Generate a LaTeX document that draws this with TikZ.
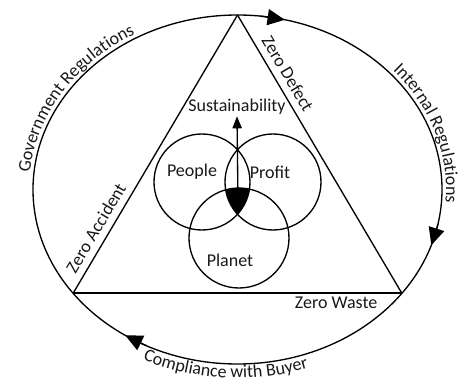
\documentclass[tikz,border=0pt]{standalone}
\usepackage{fontspec}
\setmainfont{Carlito}
\usetikzlibrary{arrows.meta,calc,decorations.text}

\newcommand{\tagfont}{\fontsize{13.5}{15}\selectfont}

\tikzstyle{ring} = [draw, line width=1pt]
\tikzstyle{side} = [draw, line width=1pt]
\tikzstyle{petal} = [circle, draw, line width=1pt, minimum size=72pt, inner sep=0pt]
\tikzstyle{tag} = [font=\tagfont, text=black!90, inner sep=1pt]
\tikzstyle{flow} = [line width=1pt, -{Triangle[length=13pt,width=12pt]}]
\tikzstyle{rise} = [line width=1pt, -{Triangle[length=9pt,width=7pt]}]
\tikzstyle{along} = [decorate, decoration={text along path, text align=center, text color=black!90}]

\begin{document}
\begin{tikzpicture}[x=0.75pt, y=0.75pt]
\useasboundingbox (0,0) rectangle (468,383);

% Outer cycle
\coordinate (c) at (237.5,193.5);
\draw[ring] (c) ellipse[x radius=204.5, y radius=174.5];

% Arrowheads on the cycle (clockwise)
\coordinate (topTip) at ($(c)+(76.6:204.5 and 174.5)$);
\coordinate (topTail) at ($(c)+(83.6:204.5 and 174.5)$);
\coordinate (rightTip) at ($(c)+(-18.6:204.5 and 174.5)$);
\coordinate (rightTail) at ($(c)+(-11.6:204.5 and 174.5)$);
\coordinate (leftTip) at ($(c)+(236.7:204.5 and 174.5)$);
\coordinate (leftTail) at ($(c)+(243.7:204.5 and 174.5)$);
\draw[flow] (topTail) -- (topTip);
\draw[flow] (rightTail) -- (rightTip);
\draw[flow] (leftTail) -- (leftTip);

% Texts round the cycle
\path[along, decoration={text={|\tagfont|Government Regulations}}]
  (c) ++(190:208.5 and 178.5) arc[start angle=190, end angle=106, x radius=208.5, y radius=178.5];
\path[along, decoration={text={|\tagfont|Internal Regulations}}]
  (c) ++(60:208.5 and 178.5) arc[start angle=60, end angle=-24, x radius=208.5, y radius=178.5];
\path[along, decoration={text={|\tagfont|Compliance with Buyer}}]
  (c) ++(225:219 and 188.5) arc[start angle=225, end angle=308, x radius=219, y radius=188.5];

% Triangle
\coordinate (apex) at ($(c)+(90:204.5 and 174.5)$);
\coordinate (BL) at ($(c)+(216.5:204.5 and 174.5)$);
\coordinate (BR) at ($(c)+(323.5:204.5 and 174.5)$);
\draw[side] (BL) -- node[tag, sloped, above=4pt, pos=0.21] {Zero Accident} (apex);
\draw[side] (apex) -- node[tag, sloped, above=4pt, pos=0.235] {Zero Defect} (BR);
\draw[side, line width=1.4pt] (BR) -- node[tag, below=1pt, pos=0.2] {Zero Waste} (BL);

% Three circles
\begin{scope}
  \clip (202,201) circle[radius=48];
  \clip (273,201) circle[radius=48];
  \fill (239,145) circle[radius=50];
\end{scope}
\node[petal] (people) at (202,201) {};
\node[petal] (profit) at (273,201) {};
\node[petal, minimum size=75pt] (planet) at (239,145) {};
\node[tag] (peopleTxt) at (192,211) {People};
\node[tag] (profitTxt) at (270,211) {Profit};
\node[tag] (planetTxt) at (230,123) {Planet};

% Sustainability
\coordinate (core) at (238,182);
\node[tag] (sust) at (237,276) {Sustainability};
\draw[rise] (core) -- (sust.south);
\end{tikzpicture}
\end{document}
